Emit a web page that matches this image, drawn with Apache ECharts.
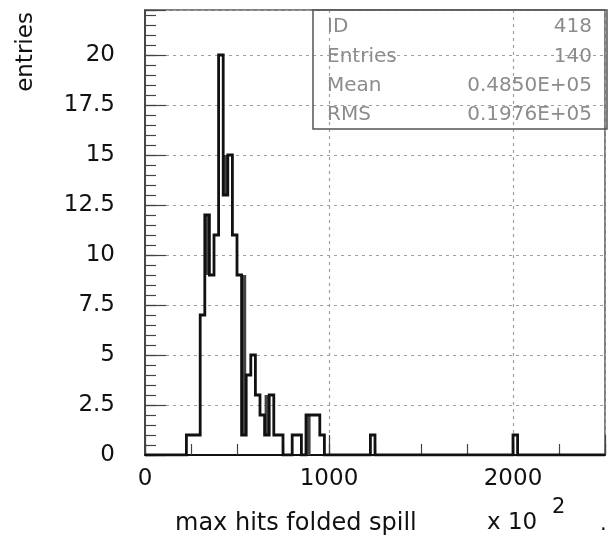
<!DOCTYPE html>
<html><head><meta charset="utf-8">
<script src="https://cdn.jsdelivr.net/npm/echarts@6/dist/echarts.min.js"></script>
<style>html,body{margin:0;padding:0;background:#fff}#c{width:608px;height:542px}</style>
</head><body><div id="c"></div>
<script>
// Histogram: 100 bins of width 25 (axis units, x 10^2) from 0 to 2500
const binWidth = 25;
const xMin = 0, xMax = 2500;
const yMin = 0, yMax = 22.25;
const counts = [
  0,0,0,0,0,0,0,0,0,1,
  1,1,7,12,9,11,20,13,15,11,
  9,1,4,5,3,2,1,3,1,1,
  0,0,1,1,0,2,2,2,1,0,
  0,0,0,0,0,0,0,0,0,1,
  0,0,0,0,0,0,0,0,0,0,
  0,0,0,0,0,0,0,0,0,0,
  0,0,0,0,0,0,0,0,0,0,
  1,0,0,0,0,0,0,0,0,0,
  0,0,0,0,0,0,0,0,0,0
];
// dark (merged-line) regions seen in narrow bins
const shadeBins = [325, 425, 525, 650, 875];
const shadeLow  = [9, 13, 1, 1, 0];
const shadeHigh = [12, 15, 9, 3, 2];
// stats box
const statLabels = ['ID', 'Entries', 'Mean', 'RMS'];
const statValues = ['418', '140', '0.4850E+05', '0.1976E+05'];
const xTickLabels = [0, 1000, 2000];
const yTickStep = 2.5;

const stepData = counts.map((c, i) => [xMin + i * binWidth, c]);
stepData.push([xMax, counts[counts.length - 1]]);

const FONT = '"DejaVu Sans", sans-serif';
const chart = echarts.init(document.getElementById('c'), null, {renderer: 'canvas'});

const G = {left: 145, top: 10, right: 1, bottom: 87};
const gridT = G.top, gridR = 608 - G.right;

const statRows = [27, 57, 86, 115];
const graphics = [
  {type: 'rect', z: 50, shape: {x: 313, y: gridT, width: gridR - 313, height: 119},
   style: {fill: 'none', stroke: '#555', lineWidth: 1.5}},
  {type: 'text', x: 26, y: 52, rotation: Math.PI / 2, z: 50,
   style: {text: 'entries', font: '23px ' + FONT, fill: '#111', align: 'center', verticalAlign: 'middle'}},
  {type: 'text', x: 175, y: 524, z: 50,
   style: {text: 'max hits folded spill', font: '24px ' + FONT, fill: '#111', align: 'left', verticalAlign: 'middle'}},
  {type: 'text', x: 487, y: 523, z: 50,
   style: {text: 'x 10', font: '23px ' + FONT, fill: '#111', align: 'left', verticalAlign: 'middle'}},
  {type: 'text', x: 552, y: 508, z: 50,
   style: {text: '2', font: '21px ' + FONT, fill: '#111', align: 'left', verticalAlign: 'middle'}},
  {type: 'text', x: 600, y: 525, z: 50,
   style: {text: '.', font: '21px ' + FONT, fill: '#111', align: 'left', verticalAlign: 'middle'}}
];
statLabels.forEach((t, i) => {
  graphics.push({type: 'text', x: 327, y: statRows[i], z: 50,
    style: {text: t, font: '20px ' + FONT, fill: '#8c8c8c', align: 'left', verticalAlign: 'middle'}});
  graphics.push({type: 'text', x: 592, y: statRows[i], z: 50,
    style: {text: statValues[i], font: '20px ' + FONT, fill: '#8c8c8c', align: 'right', verticalAlign: 'middle'}});
});

const gridLine = {show: true, lineStyle: {color: '#a0a0a0', width: 1.2, type: [3, 4]}};

chart.setOption({
  animation: false,
  backgroundColor: '#fff',
  textStyle: {fontFamily: FONT},
  grid: Object.assign({show: true, borderColor: '#555', borderWidth: 1.5, backgroundColor: 'transparent'}, G),
  xAxis: [
    {type: 'value', min: xMin, max: xMax, interval: 250, position: 'bottom',
     axisLine: {show: true, lineStyle: {color: '#111', width: 2}},
     axisTick: {show: true, inside: true, length: 11, lineStyle: {color: '#444', width: 1.2}},
     axisLabel: {show: false}, splitLine: {show: false}},
    {type: 'value', min: xMin, max: xMax, interval: 1000, position: 'bottom',
     axisLine: {show: false},
     axisTick: {show: true, inside: true, length: 20, lineStyle: {color: '#444', width: 1.2}},
     axisLabel: {show: true, margin: 13, color: '#111', fontSize: 23, fontFamily: FONT,
       formatter: v => (xTickLabels.indexOf(v) >= 0 ? String(v) : '')},
     splitLine: gridLine}
  ],
  yAxis: [
    {type: 'value', min: yMin, max: yMax, interval: 0.5, position: 'left',
     axisLine: {show: true, lineStyle: {color: '#333', width: 1.5}},
     axisTick: {show: true, inside: true, length: 11, lineStyle: {color: '#444', width: 1.2}},
     axisLabel: {show: false}, splitLine: {show: false}},
    {type: 'value', min: yMin, max: yMax, interval: yTickStep, position: 'left',
     axisLine: {show: false},
     axisTick: {show: true, inside: true, length: 21, lineStyle: {color: '#444', width: 1.2}},
     axisLabel: {show: true, margin: 30, color: '#111', fontSize: 23, fontFamily: FONT,
       formatter: v => (Math.abs(v / yTickStep - Math.round(v / yTickStep)) < 1e-6 && v <= 20 ? String(v) : '')},
     splitLine: gridLine}
  ],
  graphic: graphics,
  series: [
    {type: 'custom', xAxisIndex: 0, yAxisIndex: 0, z: 3,
     data: shadeBins.map((b, i) => [b, shadeLow[i], shadeHigh[i]]),
     renderItem: (params, api) => {
       const p0 = api.coord([api.value(0), api.value(2)]);
       const p1 = api.coord([api.value(0) + binWidth, api.value(1)]);
       return {type: 'rect', shape: {x: p0[0], y: p0[1], width: p1[0] - p0[0], height: p1[1] - p0[1]},
               style: {fill: '#444'}};
     }},
    {type: 'line', xAxisIndex: 0, yAxisIndex: 0, z: 4, step: 'end', data: stepData,
     showSymbol: false, symbol: 'none',
     lineStyle: {color: '#111', width: 2.8, join: 'miter'}}
  ]
});
</script></body></html>
